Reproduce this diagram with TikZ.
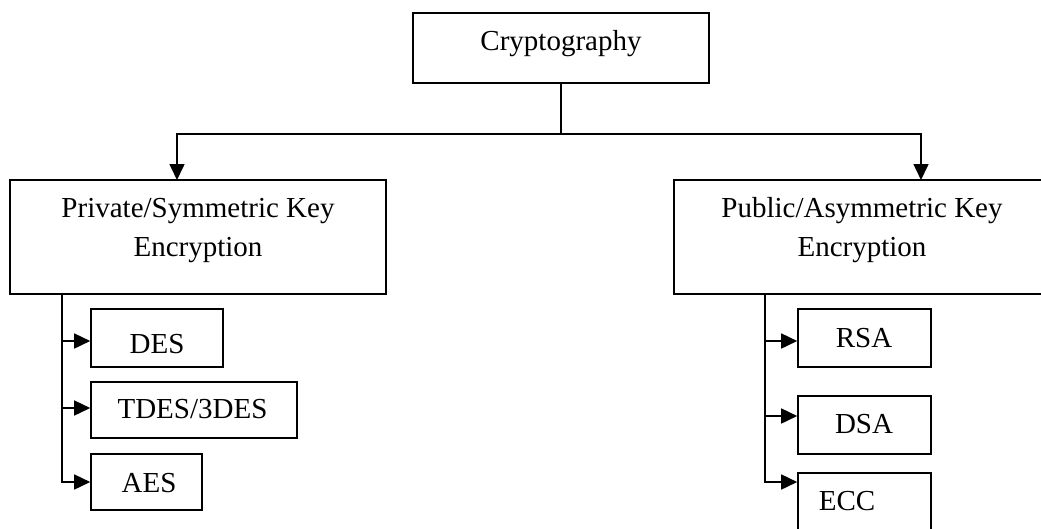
\documentclass[tikz,border=0pt]{standalone}
\usepackage{fontspec}
\setmainfont{Liberation Serif}
\usetikzlibrary{arrows.meta}
\begin{document}
\begin{tikzpicture}[x=1pt,y=-1pt,
  box/.style={draw,line width=1.6pt,rectangle,inner sep=0pt},
  lbl/.style={anchor=base,inner sep=0pt,font=\fontsize{29}{40}\selectfont},
  link/.style={line width=1.6pt},
  arr/.style={line width=1.6pt,-{Triangle[length=16pt,width=15pt]}}]
\useasboundingbox (0,0) rectangle (1041,528);

% boxes (given by their corners)
\node[box,minimum width=296pt,minimum height=70pt] (crypto) at (561,48) {};
\node[box,minimum width=376pt,minimum height=114pt] (priv) at (198,237) {};
\node[box,minimum width=376pt,minimum height=114pt] (pub) at (862,237) {};
\node[box,minimum width=132pt,minimum height=58pt] (des) at (157,338) {};
\node[box,minimum width=206pt,minimum height=56pt] (tdes) at (194,410) {};
\node[box,minimum width=111pt,minimum height=56pt] (aes) at (146.5,482) {};
\node[box,minimum width=133pt,minimum height=58pt] (rsa) at (864.5,338) {};
\node[box,minimum width=133pt,minimum height=58pt] (dsa) at (864.5,425) {};
\node[box,minimum width=133pt,minimum height=59pt] (ecc) at (864.5,502.5) {};

% labels
\node[lbl] (cryptoT) at (561,50) {Cryptography};
\node[lbl] (privT1) at (198,217) {Private/Symmetric Key};
\node[lbl] (privT2) at (198,256) {Encryption};
\node[lbl] (pubT1) at (862,217) {Public/Asymmetric Key};
\node[lbl] (pubT2) at (862,256) {Encryption};
\node[lbl] (desT) at (157,353) {DES};
\node[lbl] (tdesT) at (192.5,418) {TDES/3DES};
\node[lbl] (aesT) at (149,492) {AES};
\node[lbl] (rsaT) at (864,347) {RSA};
\node[lbl] (dsaT) at (864,433) {DSA};
\node[lbl] (eccT) at (847,510) {ECC};

% top-level split
\coordinate (hub) at (crypto.south |- 0,134);
\coordinate (privin) at (177,180);
\coordinate (pubin) at (921,180);
\draw[link] (crypto.south) -- (hub);
\draw[arr] (hub) -| (privin);
\draw[arr] (hub) -| (pubin);

% symmetric algorithms
\coordinate (ls) at (62,294);
\draw[arr] (ls) |- ([yshift=-3pt]des.west);
\draw[arr] (ls) |- ([yshift=2pt]tdes.west);
\draw[arr] (ls) |- (aes.west);

% asymmetric algorithms
\coordinate (rs) at (765,294);
\draw[arr] (rs) |- ([yshift=-3pt]rsa.west);
\draw[arr] (rs) |- ([yshift=9pt]dsa.west);
\draw[arr] (rs) |- ([yshift=20.5pt]ecc.west);
\end{tikzpicture}
\end{document}
